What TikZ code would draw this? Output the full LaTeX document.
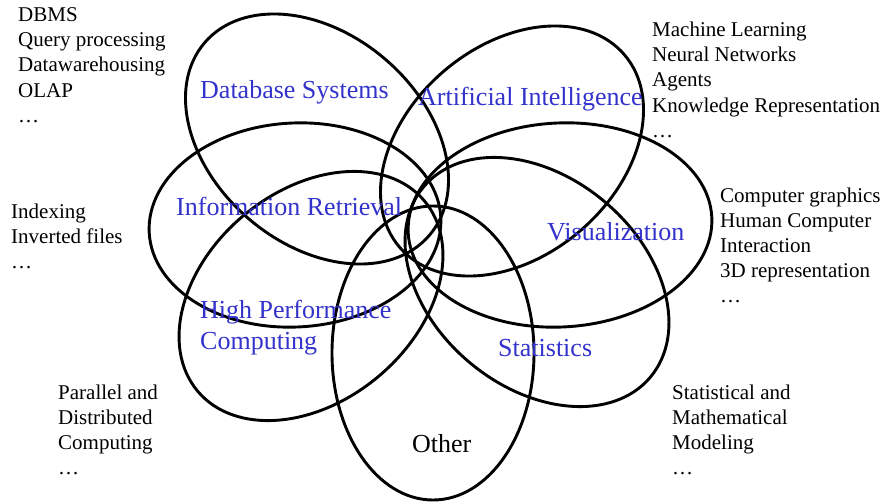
\documentclass[tikz,border=0pt]{standalone}
\usepackage{fontspec}
\setmainfont{Liberation Serif}
\definecolor{lblue}{RGB}{51,51,204}
\begin{document}
\begin{tikzpicture}[x=1pt,y=-1pt,
  petal/.style={draw=black, line width=2.9pt},
  topic/.style={text=lblue, font=\fontsize{26}{31}\selectfont, inner sep=0pt, anchor=base west},
  items/.style={text=black, font=\fontsize{21}{25}\selectfont, inner sep=0pt, anchor=base west}]
\useasboundingbox (0,0) rectangle (881,503);
% petals
\draw[petal, rotate around={-40.6:(317,139)}] (317,139) ellipse (148pt and 105pt);
\draw[petal, rotate around={40.6:(512,151)}] (512,151) ellipse (148pt and 105pt);
\draw[petal, rotate around={3:(295,225)}] (295,225) ellipse (146pt and 102pt);
\draw[petal, rotate around={3:(560,225)}] (560,225) ellipse (152pt and 102pt);
\draw[petal, rotate around={40:(311,296)}] (311,296) ellipse (148pt and 105pt);
\draw[petal, rotate around={-40:(537,282)}] (537,282) ellipse (148pt and 105pt);
\draw[petal] (433,353) ellipse (101pt and 147pt);
% topic labels
\node[topic] (tdb) at (200,99) {Database Systems};
\node[topic] (tai) at (418,106) {Artificial Intelligence};
\node[topic] (tir) at (176,215) {Information Retrieval};
\node[topic] (tvis) at (547,240) {Visualization};
\node[topic] (thpc1) at (200,318) {High Performance};
\node[topic] (thpc2) at (200,349) {Computing};
\node[topic] (tst) at (498,356) {Statistics};
\node[topic, text=black] (toth) at (412,452) {Other};
% item lists
\foreach \t [count=\i] in {DBMS, Query processing, Datawarehousing, OLAP, …}
  \node[items] (ldb\i) at (18,{22+25*(\i-1)}) {\t};
\foreach \t [count=\i] in {Indexing, Inverted files, …}
  \node[items] (lir\i) at (11,{218+25*(\i-1)}) {\t};
\foreach \t [count=\i] in {Machine Learning, Neural Networks, Agents, Knowledge Representation, …}
  \node[items] (lai\i) at (652,{37+25*(\i-1)}) {\t};
\foreach \t [count=\i] in {Computer graphics, Human Computer, Interaction, 3D representation, …}
  \node[items] (lvis\i) at (720,{202+25*(\i-1)}) {\t};
\foreach \t [count=\i] in {Parallel and, Distributed, Computing, …}
  \node[items] (lhpc\i) at (58,{399+25*(\i-1)}) {\t};
\foreach \t [count=\i] in {Statistical and, Mathematical, Modeling, …}
  \node[items] (lst\i) at (672,{399+25*(\i-1)}) {\t};
\end{tikzpicture}
\end{document}
